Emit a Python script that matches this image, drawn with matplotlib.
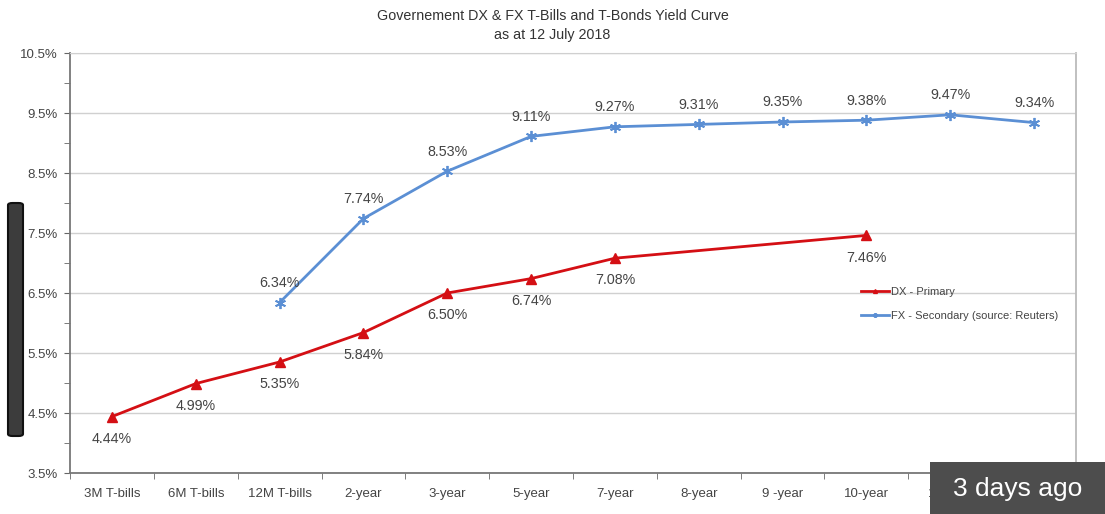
import matplotlib
matplotlib.use("Agg")
import matplotlib.pyplot as plt
from matplotlib.patches import FancyBboxPatch, Rectangle
import numpy as np

categories = ["3M T-bills", "6M T-bills", "12M T-bills", "2-year", "3-year", "5-year",
              "7-year", "8-year", "9 -year", "10-year", "15-year", "20-year"]
dx_primary = [4.44, 4.99, 5.35, 5.84, 6.50, 6.74, 7.08, None, None, 7.46, None, None]
fx_secondary = [None, None, 6.34, 7.74, 8.53, 9.11, 9.27, 9.31, 9.35, 9.38, 9.47, 9.34]
y_ticks = [3.5, 4.5, 5.5, 6.5, 7.5, 8.5, 9.5, 10.5]

plt.rcParams['font.family'] = ['Liberation Sans', 'DejaVu Sans']
txt = '#444444'

fig = plt.figure(figsize=(11.05, 5.14), dpi=100)
ax = fig.add_axes([70/1105, 1-473/514, (1076-70)/1105, (473-53)/514])

x = np.arange(len(categories))

def pts(vals):
    xs = [i for i, v in enumerate(vals) if v is not None]
    ys = [v for v in vals if v is not None]
    return xs, ys

dxx, dxy = pts(dx_primary)
fxx, fxy = pts(fx_secondary)

red = '#d40f14'
blue = '#5b8fd4'
ax.plot(fxx, fxy, color=blue, lw=2.0, marker=(6, 2, 0), ms=8, mew=1.3,
        label='FX - Secondary (source: Reuters)', zorder=3)
ax.plot(dxx, dxy, color=red, lw=2.0, marker='^', ms=7,
        label='DX - Primary', zorder=4)

for xi, yi in zip(dxx, dxy):
    ax.annotate(f"{yi:.2f}%", (xi, yi), xytext=(0, -21), textcoords='offset points',
                ha='center', va='bottom', fontsize=10.3, color=txt)
for xi, yi in zip(fxx, fxy):
    ax.annotate(f"{yi:.2f}%", (xi, yi), xytext=(0, 9), textcoords='offset points',
                ha='center', va='bottom', fontsize=10.3, color=txt)

ax.set_xlim(-0.5, len(categories) - 0.5)
ax.set_ylim(3.5, 10.5)
ax.set_yticks(y_ticks)
ax.set_yticklabels([f"{v:.1f}%" for v in y_ticks], fontsize=9.5, color=txt)
ax.set_yticks(np.arange(4.0, 10.5, 1.0), minor=True)
ax.set_xticks(x)
ax.set_xticklabels(categories, fontsize=9.5, color=txt)
ax.set_xticks(np.arange(-0.5, len(categories), 1.0), minor=True)
ax.tick_params(axis='x', which='major', length=0, pad=11)
ax.tick_params(axis='x', which='minor', length=4, color='#666666', direction='out')
ax.tick_params(axis='y', which='both', length=4, color='#666666', direction='out', pad=5)

ax.grid(axis='y', which='major', color='#d0d0d0', lw=1.0)
ax.set_axisbelow(True)
for s in ['left', 'bottom']:
    ax.spines[s].set_color('#777777')
    ax.spines[s].set_linewidth(1.3)
ax.spines['right'].set_color('#bbbbbb')
ax.spines['right'].set_linewidth(1.3)
ax.spines['top'].set_color('#d0d0d0')

handles, labels = ax.get_legend_handles_labels()
leg = ax.legend(handles[::-1], labels[::-1], loc='upper left',
                bbox_to_anchor=((852-70)/1006, 1-(278-53)/420), frameon=False,
                fontsize=8, handlelength=2.5, labelspacing=1.3, markerscale=0.4,
                handletextpad=0.2, borderpad=0.3)
for t in leg.get_texts():
    t.set_color(txt)

fig.text(0.5, 1-16/514, "Governement DX & FX T-Bills and T-Bonds Yield Curve",
         ha='center', va='center', fontsize=10.3, color='#333333')
fig.text(0.5, 1-35/514, "as at 12 July 2018",
         ha='center', va='center', fontsize=10.3, color='#333333')

# screenshot overlays
fig.patches.append(Rectangle((930/1105, 0), 175/1105, 52/514, transform=fig.transFigure,
                             facecolor='#4d4d4d', edgecolor='none', zorder=10))
fig.text(1018/1105, 1-489/514, "3 days ago", ha='center', va='center',
         fontsize=19, color='white', zorder=11)
fig.patches.append(FancyBboxPatch((8/1105, 1-436/514), 15/1105, 233/514,
                                  boxstyle='round,pad=0,rounding_size=0.004',
                                  transform=fig.transFigure, facecolor='#3c3c3c',
                                  edgecolor='#111111', lw=1.5, zorder=10))

fig.savefig("out.png", dpi=100)
